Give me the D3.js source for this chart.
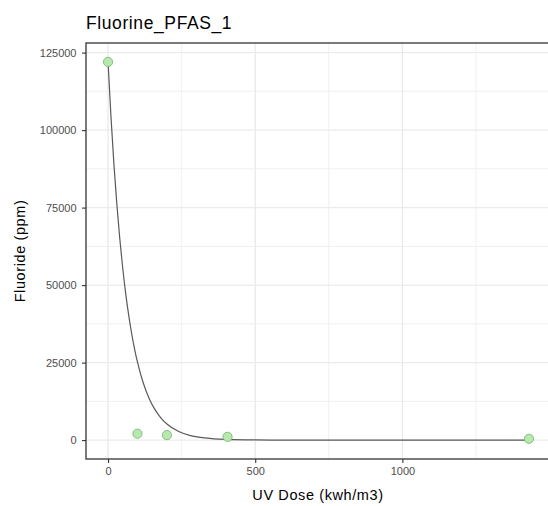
<!DOCTYPE html>
<html>
<head>
<meta charset="utf-8">
<script src="https://cdn.jsdelivr.net/npm/d3@7"></script>
<style>
  html, body { margin: 0; padding: 0; background: #fff; }
  svg { display: block; }
  text { font-family: "Liberation Sans", Arial, sans-serif; }
</style>
</head>
<body>
<svg id="chart" width="548" height="506"></svg>
<script>
// Measured samples: UV dose vs fluoride concentration
const doseValues = [0, 100, 200, 406, 1430];
const fluorideValues = [122000, 2050, 1600, 1050, 420];

// Fitted decay curve, sampled along the dose axis
const curveDose = [0, 10, 20, 30, 40, 50, 60, 70, 80, 90, 100, 120, 140, 160, 180, 200, 240, 280, 320, 360, 400, 500, 600, 800, 1100, 1430];
const curveFluoride = [122000, 104200, 88950, 75950, 64850, 55370, 47270, 40370, 34470, 29430, 25130, 18320, 13360, 9740, 7100, 5180, 2750, 1460, 780, 410, 220, 45, 10, 0, 0, 0];

const xTicks = [0, 500, 1000];
const xMinor = [250, 750, 1250];
const yTicks = [0, 25000, 50000, 75000, 100000, 125000];
const yMinor = [12500, 37500, 62500, 87500, 112500];

const titleText = "Fluorine_PFAS_1";
const xTitle = "UV Dose (kwh/m3)";
const yTitle = "Fluoride (ppm)";

const panel = { left: 86, right: 550, top: 43, bottom: 459 };

const svg = d3.select("#chart");

// 5% expansion on both axes
const xr = d3.extent(doseValues);
const xPad = (xr[1] - xr[0]) * 0.05;
const x = d3.scaleLinear().domain([xr[0] - xPad, xr[1] + xPad]).range([panel.left + 1, panel.right]);

const yr = [0, d3.max(fluorideValues)];
const yPad = (yr[1] - yr[0]) * 0.05;
const y = d3.scaleLinear().domain([yr[0] - yPad, yr[1] + yPad]).range([panel.bottom, panel.top]);

// Grid
const grid = svg.append("g");
grid.selectAll(".xminor").data(xMinor).join("line")
  .attr("x1", d => x(d)).attr("x2", d => x(d))
  .attr("y1", panel.top).attr("y2", panel.bottom)
  .attr("stroke", "#f0f0f0").attr("stroke-width", 1);
grid.selectAll(".yminor").data(yMinor).join("line")
  .attr("x1", panel.left).attr("x2", panel.right)
  .attr("y1", d => y(d)).attr("y2", d => y(d))
  .attr("stroke", "#f0f0f0").attr("stroke-width", 1);
grid.selectAll(".xmajor").data(xTicks).join("line")
  .attr("x1", d => x(d)).attr("x2", d => x(d))
  .attr("y1", panel.top).attr("y2", panel.bottom)
  .attr("stroke", "#ebebeb").attr("stroke-width", 1.4);
grid.selectAll(".ymajor").data(yTicks).join("line")
  .attr("x1", panel.left).attr("x2", panel.right)
  .attr("y1", d => y(d)).attr("y2", d => y(d))
  .attr("stroke", "#ebebeb").attr("stroke-width", 1.4);

// Fitted curve
const line = d3.line()
  .x((d, i) => x(curveDose[i]))
  .y(d => y(d))
  .curve(d3.curveMonotoneX);
svg.append("path")
  .datum(curveFluoride)
  .attr("d", line)
  .attr("fill", "none")
  .attr("stroke", "#595959")
  .attr("stroke-width", 1.2);

// Measured points
svg.selectAll(".pt").data(doseValues).join("circle")
  .attr("cx", d => x(d))
  .attr("cy", (d, i) => y(fluorideValues[i]))
  .attr("r", 4.6)
  .attr("fill", "#b8e8b0")
  .attr("stroke", "#7cb878")
  .attr("stroke-width", 0.9);

// Panel border
svg.append("rect")
  .attr("x", panel.left).attr("y", panel.top)
  .attr("width", panel.right - panel.left).attr("height", panel.bottom - panel.top)
  .attr("fill", "none").attr("stroke", "#333333").attr("stroke-width", 1.3);

// Axes
const xAxis = d3.axisBottom(x).tickValues(xTicks).tickSize(4).tickPadding(4).tickFormat(d3.format("d"));
const gx = svg.append("g").attr("transform", `translate(0,${panel.bottom})`).call(xAxis);
gx.select(".domain").remove();
gx.selectAll("line").attr("stroke", "#333333").attr("stroke-width", 1.1);
gx.selectAll("text").attr("fill", "#4d4d4d").attr("font-size", 11)
  .attr("font-family", "Liberation Sans, Arial, sans-serif");

const yAxis = d3.axisLeft(y).tickValues(yTicks).tickSize(4).tickPadding(5.5).tickFormat(d3.format("d"));
const gy = svg.append("g").attr("transform", `translate(${panel.left},0)`).call(yAxis);
gy.select(".domain").remove();
gy.selectAll("line").attr("stroke", "#333333").attr("stroke-width", 1.1);
gy.selectAll("text").attr("fill", "#4d4d4d").attr("font-size", 11)
  .attr("font-family", "Liberation Sans, Arial, sans-serif");

// Titles
svg.append("text")
  .attr("x", panel.left).attr("y", 29)
  .attr("font-size", 17.5).attr("letter-spacing", 0.6).attr("fill", "#000")
  .text(titleText);

svg.append("text")
  .attr("x", (panel.left + panel.right) / 2).attr("y", 500)
  .attr("text-anchor", "middle")
  .attr("font-size", 14.5).attr("letter-spacing", 0.6).attr("fill", "#000")
  .text(xTitle);

svg.append("text")
  .attr("transform", `translate(25,${(panel.top + panel.bottom) / 2}) rotate(-90)`)
  .attr("text-anchor", "middle")
  .attr("font-size", 14.5).attr("letter-spacing", 0.6).attr("fill", "#000")
  .text(yTitle);
</script>
</body>
</html>
